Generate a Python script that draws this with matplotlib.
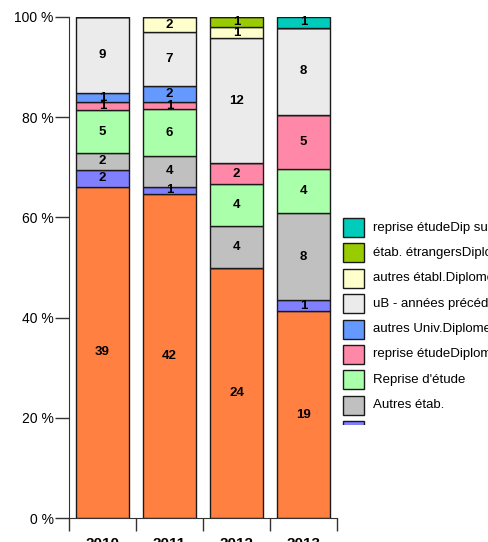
import matplotlib
matplotlib.use("Agg")
import matplotlib.pyplot as plt
import numpy as np
from matplotlib.patches import Rectangle

plt.rcParams['font.family'] = ['Liberation Sans', 'DejaVu Sans']

years = ['2010', '2011', '2012', '2013']

# series, bottom to top
series_names = [
    "uB - même année",
    "DUT",
    "Autres étab.",
    "Reprise d'étude",
    "reprise étudeDiplome univ.",
    "autres Univ.Diplome",
    "uB - années précédentes",
    "autres établ.Diplome",
    "étab. étrangersDiplome",
    "reprise étudeDip sup",
]
series_colors = ['#FF8040', '#8080FF', '#C0C0C0', '#AAFFAA', '#FF88A8',
                 '#6699FF', '#EBEBEB', '#FFFFCC', '#99CC00', '#00CCBB']

uB_meme = [39, 42, 24, 19]
dut = [2, 1, 0, 1]
autres_etab = [2, 4, 4, 8]
reprise = [5, 6, 4, 4]
reprise_dipl = [1, 1, 2, 5]
autres_univ = [1, 2, 0, 0]
uB_prec = [9, 7, 12, 8]
autres_etabl_dipl = [0, 2, 1, 0]
etab_etrangers = [0, 0, 1, 0]
reprise_sup = [0, 0, 0, 1]

counts = np.array([uB_meme, dut, autres_etab, reprise, reprise_dipl,
                   autres_univ, uB_prec, autres_etabl_dipl, etab_etrangers,
                   reprise_sup], dtype=float)
pct = counts / counts.sum(axis=0) * 100

fig = plt.figure(figsize=(4.88, 5.42), dpi=100)
ax = fig.add_axes([69 / 488, 1 - 518 / 542, 268 / 488, 501 / 542])

x = np.arange(len(years))
bottom = np.zeros(len(years))
for i, name in enumerate(series_names):
    ax.bar(x, pct[i], 0.8, bottom=bottom, color=series_colors[i],
           edgecolor='#1a1a1a', linewidth=1.0, label=name)
    for j in range(len(years)):
        if counts[i, j] > 0:
            ax.text(x[j], bottom[j] + pct[i, j] / 2, '%d' % counts[i, j],
                    ha='center', va='center', fontsize=9.5, fontweight='bold')
    bottom += pct[i]

ax.set_xlim(-0.5, 3.5)
ax.set_ylim(0, 100)
ax.set_yticks([0, 20, 40, 60, 80, 100])
ax.set_yticklabels(['%d %%' % v for v in [0, 20, 40, 60, 80, 100]], fontsize=10)
ax.tick_params(axis='y', length=10, width=1, color='#333333', pad=1)
ax.set_xticks(x)
ax.set_xticklabels(years, fontsize=11, fontweight='bold')
ax.tick_params(axis='x', which='major', length=0, pad=14)
ax.set_xticks(np.arange(-0.5, 4, 1), minor=True)
ax.tick_params(axis='x', which='minor', length=9, width=1, color='#333333')
for s in ['top', 'right']:
    ax.spines[s].set_visible(False)
for s in ['left', 'bottom']:
    ax.spines[s].set_color('#333333')

# legend box, cut off at the bottom like the original
lax = fig.add_axes([335 / 488, 1 - 425 / 542, 153 / 488, (425 - 214) / 542])
lax.set_xlim(0, 153)
lax.set_ylim(425, 214)
lax.axis('off')
for k, i in enumerate(range(len(series_names) - 1, -1, -1)):
    yc = 227.5 + k * 25.4
    lax.add_patch(Rectangle((8, yc - 9.5), 21, 19, facecolor=series_colors[i],
                            edgecolor='#1a1a1a', linewidth=1.0, clip_on=True))
    lax.text(38, yc, series_names[i], fontsize=9.5, va='center', ha='left',
             clip_on=True)

fig.savefig('out.png', dpi=100)
